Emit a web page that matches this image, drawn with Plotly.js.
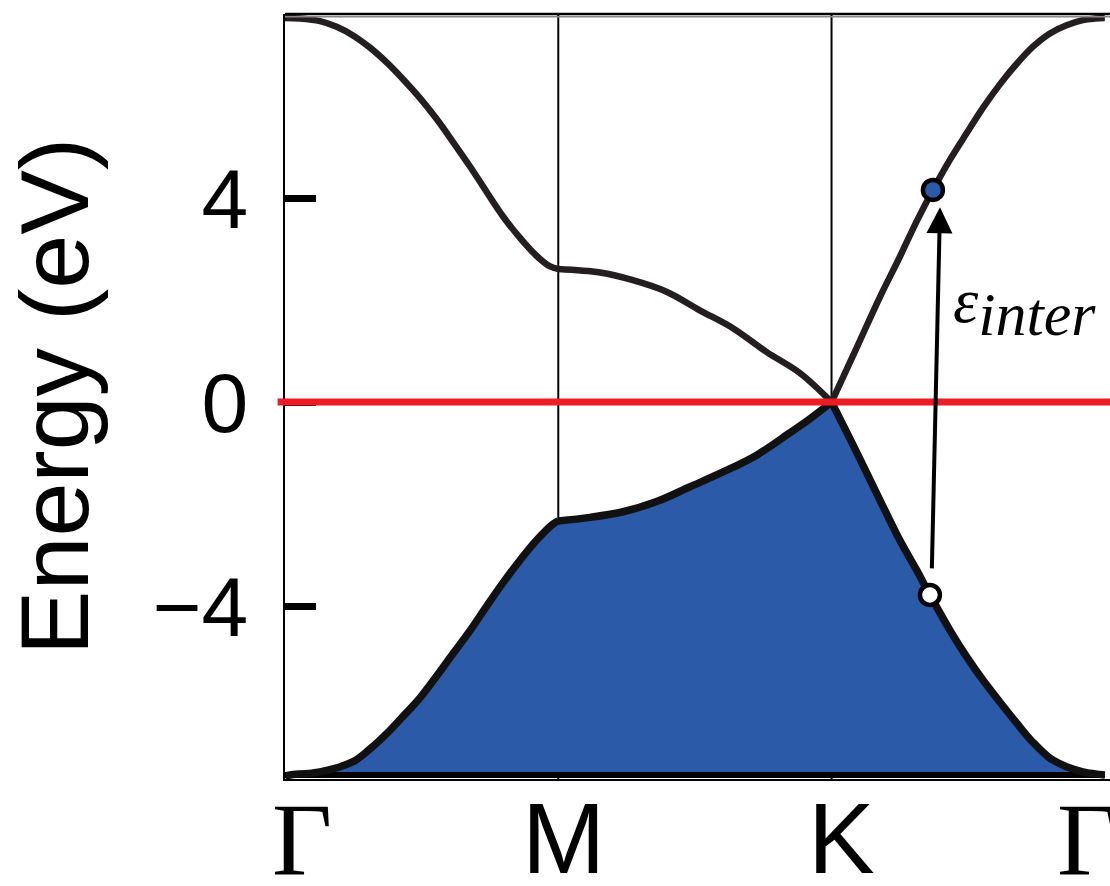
<!DOCTYPE html>
<html>
<head>
<meta charset="utf-8">
<script src="https://cdn.plot.ly/plotly-3.0.1.min.js"></script>
<style>
  html, body { margin: 0; padding: 0; background: #ffffff; }
  #chart { width: 1110px; height: 886px; }
</style>
</head>
<body>
<div id="chart"></div>
<script>
// High-symmetry path Γ–M–K–Γ, equally spaced along k
const kPointLabels = ['Γ', 'M', 'K', 'Γ'];
const kPointPos = [0, 1, 2, 3];

// Conduction (π*) band, eV
const kUpper = [0, 0.055, 0.128, 0.189, 0.249, 0.311, 0.372, 0.432, 0.494, 0.555, 0.615, 0.677,
                0.738, 0.798, 0.860, 0.922, 0.970, 1.0,
                1.153, 1.273, 1.398, 1.518, 1.639, 1.763, 1.884, 2.0,
                2.088, 2.177, 2.250, 2.311, 2.371, 2.433, 2.494, 2.554, 2.616, 2.677,
                2.737, 2.799, 2.860, 2.920, 2.964, 3.0];
const eUpper = [7.53, 7.52, 7.47, 7.36, 7.19, 6.95, 6.66, 6.33, 5.96, 5.55, 5.10, 4.62,
                4.12, 3.64, 3.22, 2.86, 2.66, 2.61,
                2.54, 2.39, 2.16, 1.80, 1.45, 0.98, 0.57, 0.0,
                1.02, 2.06, 2.85, 3.54, 4.16, 4.75, 5.27, 5.77, 6.23, 6.63,
                6.97, 7.23, 7.39, 7.49, 7.52, 7.53];

// Valence (π) band, eV
const kLower = [0, 0.018, 0.128, 0.249, 0.311, 0.372, 0.432, 0.494, 0.555, 0.615, 0.677,
                0.738, 0.798, 0.860, 0.922, 0.981, 1.0,
                1.116, 1.237, 1.360, 1.482, 1.603, 1.726, 1.848, 1.925, 2.0,
                2.088, 2.177, 2.250, 2.311, 2.360, 2.433, 2.494, 2.554, 2.616, 2.677,
                2.737, 2.799, 2.860, 2.920, 2.964, 3.0];
const eLower = [-7.33, -7.31, -7.25, -7.05, -6.80, -6.50, -6.16, -5.80, -5.37, -4.93, -4.48,
                -4.00, -3.54, -3.10, -2.70, -2.39, -2.33,
                -2.26, -2.15, -1.95, -1.66, -1.37, -1.04, -0.60, -0.31, 0.0,
                -0.94, -1.92, -2.71, -3.29, -3.78, -4.47, -4.99, -5.45, -5.88, -6.29,
                -6.67, -6.98, -7.15, -7.25, -7.29, -7.31];

// Bottom of the occupied band (fill baseline)
const bandBottom = -7.31;

// Interband transition: initial (occupied) and final (empty) states
const transK = [2.360, 2.371];
const transE = [-3.78, 4.16];

// Energy axis
const energyTicks = [-4, 0, 4];
const energyTickText = ['−4', '0', '4'];
const fermiLevel = 0;

const bandColor = '#231f20';
const fillColor = '#2a5aa8';

// split a band into the three path segments so each is smoothed on its own
function segments(ks, es) {
  const out = [];
  for (let s = 0; s < kPointPos.length - 1; s++) {
    const a = kPointPos[s], b = kPointPos[s + 1];
    const xs = [], ys = [];
    ks.forEach((k, i) => { if (k >= a && k <= b) { xs.push(k); ys.push(es[i]); } });
    out.push({ x: xs, y: ys });
  }
  return out;
}

const traces = [
  // baseline of the filled band
  {
    x: [kPointPos[0], kPointPos[3]], y: [bandBottom, bandBottom],
    mode: 'lines', line: { color: '#000000', width: 6 },
    hoverinfo: 'skip', showlegend: false
  },
  // occupied states
  {
    x: kLower, y: eLower, mode: 'lines',
    line: { color: fillColor, width: 0 },
    fill: 'tonexty', fillcolor: fillColor, showlegend: false, hoverinfo: 'skip'
  }
];

segments(kLower, eLower).forEach(seg => traces.push({
  x: seg.x, y: seg.y, mode: 'lines',
  line: { color: '#111111', width: 7.5, shape: 'spline', smoothing: 1 },
  showlegend: false
}));
segments(kUpper, eUpper).forEach(seg => traces.push({
  x: seg.x, y: seg.y, mode: 'lines',
  line: { color: bandColor, width: 6.5, shape: 'spline', smoothing: 1 },
  showlegend: false
}));

traces.push({
  x: [transK[0]], y: [transE[0]], mode: 'markers',
  marker: { size: 20, color: '#ffffff', line: { color: '#000000', width: 4.5 } },
  showlegend: false
});
traces.push({
  x: [transK[1]], y: [transE[1]], mode: 'markers',
  marker: { size: 20, color: fillColor, line: { color: '#000000', width: 4.5 } },
  showlegend: false
});

const shapes = [
  // M and K guide lines
  { type: 'line', xref: 'x', yref: 'paper', x0: kPointPos[1], x1: kPointPos[1], y0: 0, y1: 1,
    line: { color: '#000000', width: 2 }, layer: 'below' },
  { type: 'line', xref: 'x', yref: 'paper', x0: kPointPos[2], x1: kPointPos[2], y0: 0, y1: 1,
    line: { color: '#000000', width: 2 }, layer: 'below' },
  // top frame
  { type: 'line', xref: 'paper', yref: 'paper', x0: 0, x1: 1, y0: 1, y1: 1,
    line: { color: '#000000', width: 2.5 } },
  { type: 'line', xref: 'paper', yref: 'paper', x0: 0, x1: 1, y0: 0.9965, y1: 0.9965,
    line: { color: '#888888', width: 1.5 } },
  // Fermi level
  { type: 'line', xref: 'paper', yref: 'y', x0: -0.009, x1: 1, y0: fermiLevel, y1: fermiLevel,
    line: { color: '#ed1c24', width: 7 } }
];

const labelShift = [17, 5, 10, -18];
const annotations = kPointLabels.map((t, i) => ({
  x: kPointPos[i], y: 0, xref: 'x', yref: 'paper',
  xanchor: 'center', yanchor: 'top', yshift: -1, xshift: labelShift[i],
  text: t, showarrow: false,
  font: t === 'Γ'
    ? { family: 'Liberation Serif, Times New Roman, serif', size: 104, color: '#000000' }
    : { family: 'Liberation Sans, Arial, sans-serif', size: 100, color: '#000000' }
}));

// transition arrow, from just above the initial state to just below the final state
annotations.push({
  x: transK[1] + 0.026, y: transE[1] - 0.34, ax: transK[0] + 0.007, ay: transE[0] + 0.49,
  xref: 'x', yref: 'y', axref: 'x', ayref: 'y',
  showarrow: true, arrowhead: 2, arrowsize: 1.3, arrowwidth: 4, arrowcolor: '#000000', text: ''
});
annotations.push({
  x: 2.436, y: 1.87, xref: 'x', yref: 'y', xanchor: 'left', yanchor: 'middle',
  text: '<i>ε<sub><span style="font-size:62px">inter</span></sub></i>', showarrow: false,
  font: { family: 'Liberation Serif, Times New Roman, serif', size: 64, color: '#000000' }
});

const layout = {
  width: 1110, height: 886,
  margin: { l: 285, r: 0, t: 14, b: 107 },
  paper_bgcolor: '#ffffff', plot_bgcolor: '#ffffff',
  font: { family: 'Liberation Sans, Arial, sans-serif', color: '#000000' },
  xaxis: {
    range: [0, 3.019], showgrid: false, zeroline: false,
    showline: true, linecolor: '#000000', linewidth: 2,
    showticklabels: false, ticks: ''
  },
  yaxis: {
    range: [-7.39, 7.61], showgrid: false, zeroline: false,
    showline: true, linecolor: '#000000', linewidth: 2,
    tickvals: energyTicks, ticktext: energyTickText,
    ticks: 'inside', ticklen: 31, tickwidth: 7, tickcolor: '#000000',
    ticklabelstandoff: 18,
    tickfont: { size: 84, family: 'Liberation Sans, Arial, sans-serif' },
    title: { text: 'Energy (eV)', font: { size: 97 }, standoff: 36 }
  },
  shapes: shapes,
  annotations: annotations,
  showlegend: false
};

Plotly.newPlot('chart', traces, layout, { displayModeBar: false, staticPlot: true });
</script>
</body>
</html>
